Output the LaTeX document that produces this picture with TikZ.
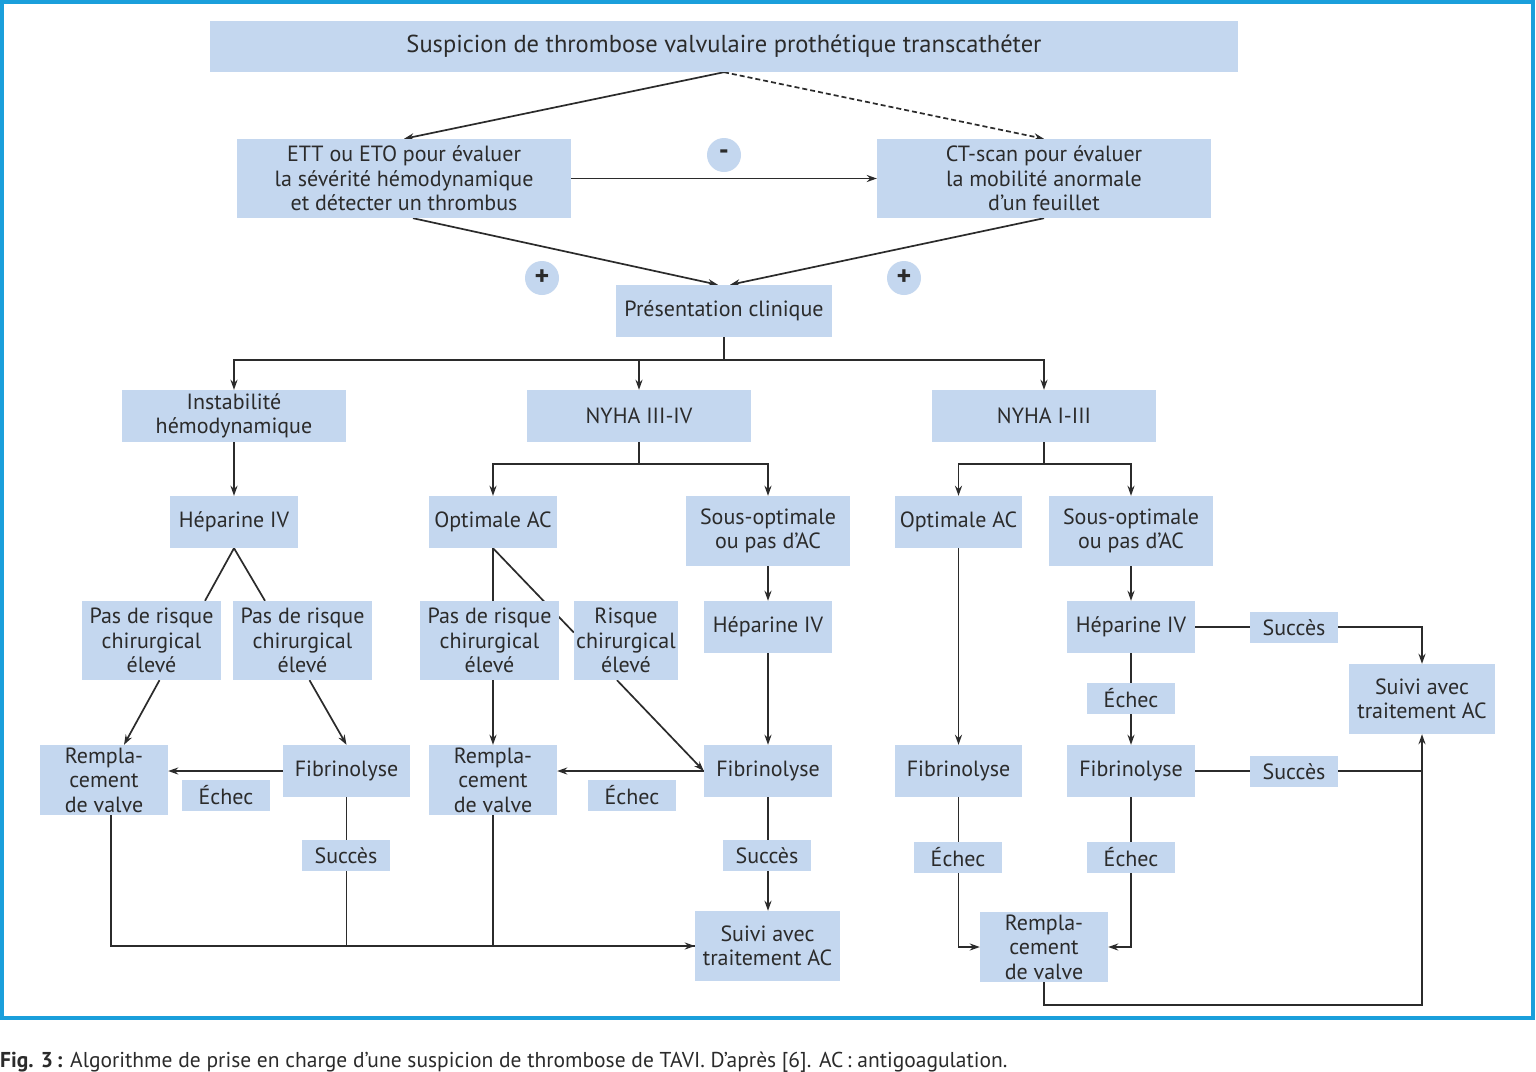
\documentclass[tikz,border=0pt]{standalone}
\usepackage{fontspec}
\setmainfont{PT Sans}
\usetikzlibrary{arrows.meta,calc}
\definecolor{boxblue}{HTML}{C4D7EF}
\definecolor{frameblue}{HTML}{1A9FDB}
\definecolor{ink}{HTML}{2B2B2B}
\pgfdeclarelayer{back}
\pgfdeclarelayer{bg}
\pgfsetlayers{back,bg,main}
\tikzset{
  box/.style={fill=boxblue, inner sep=0pt, align=center, text=ink,
    font=\fontsize{22}{24.5}\selectfont},
  bx/.style 2 args={box, minimum width=#1, minimum height=#2},
  lbl/.style={box, minimum width=88, minimum height=31},
  circ/.style={circle, fill=boxblue, minimum size=34, inner sep=0pt, text=ink,
    font=\fontsize{28}{28}\selectfont\bfseries},
  conn/.style={draw=ink, line width=1.7pt},
  arr/.style={conn, -{Stealth[length=10pt,width=7pt]}},
}
\begin{document}
\begin{tikzpicture}[x=1pt, y=-1pt]
\useasboundingbox (0,0) rectangle (1536,1071);
\begin{pgfonlayer}{back}
\fill[white] (0,0) rectangle (1536,1071);
\draw[frameblue, line width=3.5pt] (2,2) rectangle (1533,1018);
\end{pgfonlayer}

% nodes
\node[bx={1028}{51}, font=\fontsize{24.5}{26}\selectfont] (top) at (724,46.5) {Suspicion de thrombose valvulaire prothétique transcathéter};
\node[bx={334}{79}] (ett) at (404,178.5) {ETT ou ETO pour évaluer\\la sévérité hémodynamique\\et détecter un thrombus};
\node[bx={334}{79}] (ct) at (1044,178.5) {CT-scan pour évaluer\\la mobilité anormale\\d’un feuillet};
\node[circ] (minus) at (724,155) {-};
\node[circ] (plusl) at (542,278) {+};
\node[circ] (plusr) at (904,278) {+};
\node[bx={216}{52}] (pres) at (724,311) {Présentation clinique};
\node[bx={224}{52}] (inst) at (234,416) {Instabilité\\hémodynamique};
\node[bx={224}{52}] (nyha34) at (639,416) {NYHA III-IV};
\node[bx={224}{52}] (nyha13) at (1044,416) {NYHA I-III};
\node[bx={128}{52}] (hep1) at (234,522) {Héparine IV};
\node[bx={128}{52}] (opt1) at (493,522) {Optimale AC};
\node[bx={164}{70}] (sous1) at (768,531) {Sous-optimale\\ou pas d’AC};
\node[bx={127}{52}] (opt2) at (958.5,522) {Optimale AC};
\node[bx={164}{70}] (sous2) at (1131,531) {Sous-optimale\\ou pas d’AC};
\node[bx={139}{79}] (pas1) at (151.5,640.5) {Pas de risque\\chirurgical\\élevé};
\node[bx={139}{79}] (pas2) at (302.5,640.5) {Pas de risque\\chirurgical\\élevé};
\node[bx={139}{79}] (pas3) at (489.5,640.5) {Pas de risque\\chirurgical\\élevé};
\node[bx={104}{79}] (risk) at (626,640.5) {Risque\\chirurgical\\élevé};
\node[bx={128}{52}] (hep2) at (768,627) {Héparine IV};
\node[bx={128}{52}] (hep3) at (1131,627) {Héparine IV};
\node[lbl] (s3) at (1294,627.5) {Succès};
\node[bx={146}{70}] (suivi2) at (1422,699) {Suivi avec\\traitement AC};
\node[lbl] (e5) at (1131,698.5) {Échec};
\node[bx={128}{70}] (rem1) at (104,780) {Rempla-\\cement\\de valve};
\node[lbl] (e1) at (226,795.5) {Échec};
\node[bx={127}{52}] (fib1) at (346.5,771) {Fibrinolyse};
\node[bx={128}{70}] (rem2) at (493,780) {Rempla-\\cement\\de valve};
\node[lbl] (e2) at (632,795.5) {Échec};
\node[bx={128}{52}] (fib2) at (768,771) {Fibrinolyse};
\node[bx={127}{52}] (fib3) at (958.5,771) {Fibrinolyse};
\node[bx={128}{52}] (fib4) at (1131,771) {Fibrinolyse};
\node[lbl] (s4) at (1294,771.5) {Succès};
\node[lbl] (s1) at (346,855.5) {Succès};
\node[lbl] (s2) at (767,855.5) {Succès};
\node[lbl] (e3) at (958,857.5) {Échec};
\node[lbl] (e4) at (1131,857.5) {Échec};
\node[bx={145}{70}] (suivi1) at (767.5,946) {Suivi avec\\traitement AC};
\node[bx={128}{70}] (rem3) at (1044,947) {Rempla-\\cement\\de valve};

\coordinate (j1) at (724,360);
\coordinate (j2) at (639,464);
\coordinate (j3) at (1044,464);
\coordinate (j4) at (1044,1005);

\begin{pgfonlayer}{bg}
\draw[arr] (top.south) -- (ett.north);
\draw[arr, dash pattern=on 5pt off 3pt] (top.south) -- (ct.north);
\draw[arr] (ett.east) -- (ct.west);
\draw[arr] ($(ett.south)+(9,0)$) -- ($(pres.north)+(-6,0)$);
\draw[arr] (ct.south) -- ($(pres.north)+(6,0)$);
\draw[conn] (pres.south) -- (j1);
\draw[arr] (j1) -| (inst.north);
\draw[arr] (j1) -| (nyha34.north);
\draw[arr] (j1) -| (nyha13.north);
\draw[arr] (inst.south) -- (hep1.north);
\draw[conn] (nyha34.south) -- (j2);
\draw[arr] (j2) -| (opt1.north);
\draw[arr] (j2) -| (sous1.north);
\draw[conn] (nyha13.south) -- (j3);
\draw[arr] (j3) -| (opt2.north);
\draw[arr] (j3) -| (sous2.north);
% left branch
\draw[conn] (hep1.south) -- ($(pas1.north)+(53.5,0)$);
\draw[conn] (hep1.south) -- ($(pas2.north)+(-37.5,0)$);
\draw[arr] ($(pas1.south)+(8,0)$) -- ($(rem1.north)+(20,0)$);
\draw[arr] ($(pas2.south)+(7,0)$) -- (fib1.north);
\draw[arr] (fib1.west) -- (fib1.west -| rem1.east);
\draw[conn] ($(rem1.south)+(7,0)$) |- (suivi1.west);
\draw[conn] (fib1.south) -- (fib1.south |- suivi1.west);
% middle branch
\draw[conn] (opt1.south) -- (opt1.south |- pas3.north);
\draw[conn] (opt1.south) -- ($(risk.west)+(0,-8)$);
\draw[arr] (rem2.north |- pas3.south) -- (rem2.north);
\draw[arr] ($(risk.south)+(-9,0)$) -- (fib2.west);
\draw[arr] (fib2.west) -- (fib2.west -| rem2.east);
\draw[conn] (rem2.south) -- (rem2.south |- suivi1.west);
\draw[arr] (rem2.south |- suivi1.west) -- (suivi1.west);
\draw[arr] (sous1.south) -- (hep2.north);
\draw[arr] (hep2.south) -- (fib2.north);
\draw[arr] (fib2.south) -- (fib2.south |- suivi1.north);
% right branch
\draw[arr] (opt2.south) -- (fib3.north);
\draw[arr] (fib3.south) |- (rem3.west);
\draw[arr] (sous2.south) -- (hep3.north);
\draw[arr] (hep3.south) -- (fib4.north);
\draw[arr] (hep3.east) -| (suivi2.north);
\draw[conn] (fib4.east) -- (fib4.east -| suivi2.south);
\draw[arr] (rem3.south) -- (j4) -| (suivi2.south);
\draw[arr] (fib4.south) |- (rem3.east);
\end{pgfonlayer}

\node[anchor=base west, inner sep=0pt, text=ink, font=\fontsize{21.5}{24}\selectfont] (cap) at (0,1067)
  {\textbf{Fig. 3\,:} Algorithme de prise en charge d’une suspicion de thrombose de TAVI. D’après [6]. AC\,: antigoagulation.};
\end{tikzpicture}
\end{document}
